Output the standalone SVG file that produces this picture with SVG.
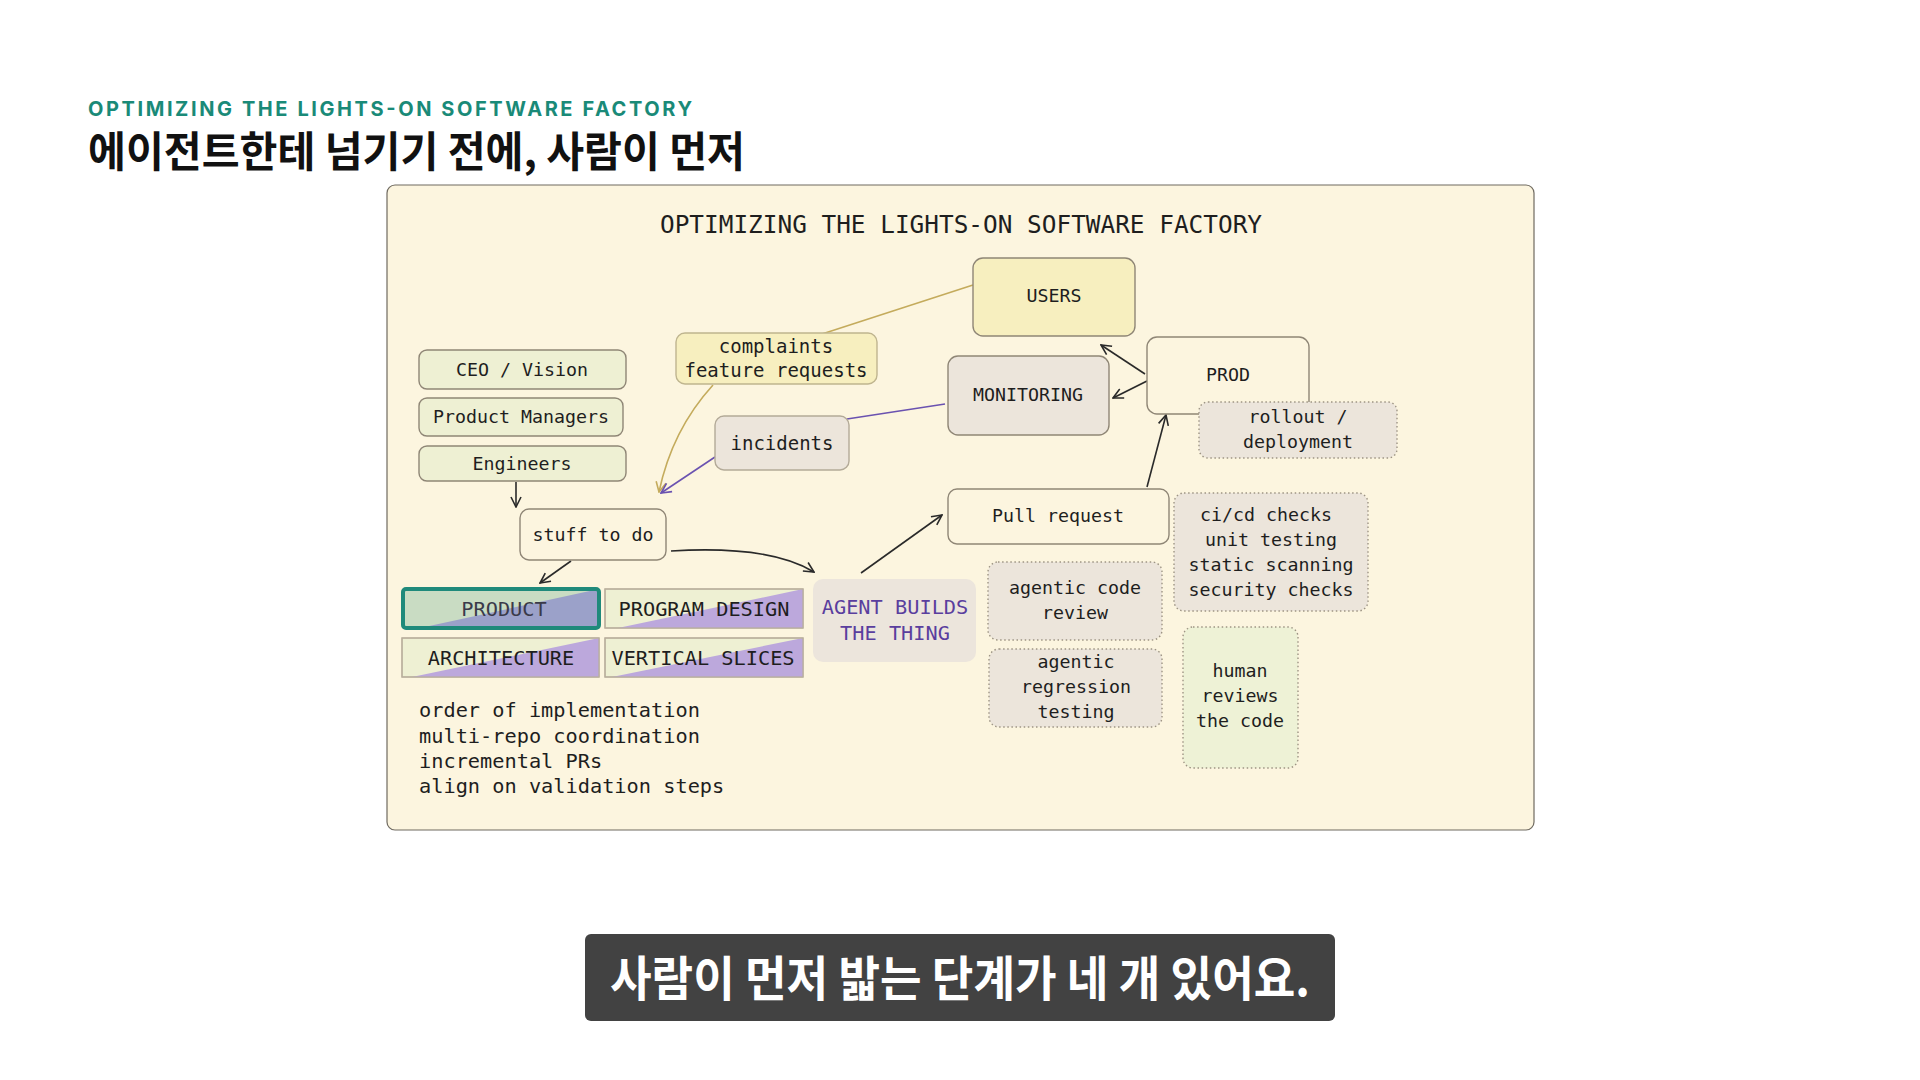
<svg xmlns="http://www.w3.org/2000/svg" width="1920" height="1080" viewBox="0 0 1920 1080">
<style>
.m{font-family:"DejaVu Sans Mono","Liberation Mono",monospace;fill:#1e1e1e;text-anchor:middle}
.s18{font-size:18.3px}
.s19{font-size:19px}
.s20{font-size:20.3px}
.box{stroke:#8f8676;stroke-width:1.4}
.dot{stroke:#9d9484;stroke-width:1.4;stroke-dasharray:1.5 2.6}
.cream{fill:#fcf5df}
.green{fill:#eef0d3}
.yellow{fill:#f7efbf}
.gray{fill:#ece5db}
.cat{stroke:#b8ae9c;stroke-width:1.2}
.tri{fill:#bca8dc}
.conn{fill:none;stroke:#2a2a2a;stroke-width:1.6}
</style>
<defs>
<marker id="ah" viewBox="0 0 12 12" refX="11" refY="6" markerWidth="12" markerHeight="12" markerUnits="userSpaceOnUse" orient="auto">
<path d="M1,1 L11,6 L1,11" fill="none" stroke="#2a2a2a" stroke-width="1.6"/>
</marker>
<marker id="ahy" viewBox="0 0 12 12" refX="11" refY="6" markerWidth="12" markerHeight="12" markerUnits="userSpaceOnUse" orient="auto">
<path d="M1,1 L11,6 L1,11" fill="none" stroke="#c4ab5c" stroke-width="1.6"/>
</marker>
<marker id="ahp" viewBox="0 0 12 12" refX="11" refY="6" markerWidth="12" markerHeight="12" markerUnits="userSpaceOnUse" orient="auto">
<path d="M1,1 L11,6 L1,11" fill="none" stroke="#6a52b0" stroke-width="1.6"/>
</marker>
</defs>
<rect width="1920" height="1080" fill="#ffffff"/>

<g id="header">
<text x="88" y="116" font-family="Inter,'Noto Sans',sans-serif" font-weight="700" font-size="20" fill="#1a8a78" textLength="604" lengthAdjust="spacing">OPTIMIZING THE LIGHTS-ON SOFTWARE FACTORY</text>
<text x="88" y="167" font-family="'Noto Sans CJK KR',sans-serif" font-weight="700" font-size="42" fill="#111111" textLength="657" lengthAdjust="spacingAndGlyphs">에이전트한테 넘기기 전에, 사람이 먼저</text>
</g>

<g id="frame">
<rect x="387" y="185" width="1147" height="645" rx="8" fill="#fcf5df" stroke="#6f6a60" stroke-width="1.2"/>
<text class="m" x="961" y="233" font-size="24.4">OPTIMIZING THE LIGHTS-ON SOFTWARE FACTORY</text>
</g>

<g id="connectors">
<path class="conn" d="M973,285 L822,334" style="stroke:#c4ab5c"/>
<path class="conn" d="M713,385 Q672,430 659,492" style="stroke:#c4ab5c" marker-end="url(#ahy)"/>
<path class="conn" d="M945,404 L847,419" style="stroke:#6a52b0"/>
<path class="conn" d="M715,457 L661,493" style="stroke:#6a52b0" marker-end="url(#ahp)"/>
<path class="conn" d="M1145,374 L1101,345" marker-end="url(#ah)"/>
<path class="conn" d="M1147,381 L1113,398" marker-end="url(#ah)"/>
<path class="conn" d="M1147,487 L1166,415" marker-end="url(#ah)"/>
<path class="conn" d="M861,573 L942,515" marker-end="url(#ah)"/>
<path class="conn" d="M671,551 Q770,545 814,572" marker-end="url(#ah)"/>
<path class="conn" d="M571,561 L540,583" marker-end="url(#ah)"/>
<path class="conn" d="M516,482 L516,507" marker-end="url(#ah)"/>
</g>

<g id="ceo">
<rect class="box green" x="419" y="350" width="207" height="39" rx="8"/>
<text class="m s18" x="522" y="376">CEO / Vision</text>
</g>
<g id="pm">
<rect class="box green" x="419" y="398" width="204" height="38" rx="8"/>
<text class="m s18" x="521" y="423">Product Managers</text>
</g>
<g id="engineers">
<rect class="box green" x="419" y="446" width="207" height="35" rx="8"/>
<text class="m s18" x="522" y="470">Engineers</text>
</g>
<g id="stuff">
<rect class="box cream" x="520" y="509" width="146" height="51" rx="9"/>
<text class="m s18" x="593" y="541">stuff to do</text>
</g>
<g id="complaints">
<rect class="box yellow" x="676" y="333" width="201" height="51" rx="9" style="stroke:#bfb58f"/>
<text class="m s19" x="776" y="353">complaints</text>
<text class="m s19" x="776" y="377">feature requests</text>
</g>
<g id="incidents">
<rect class="box gray" x="715" y="416" width="134" height="54" rx="9" style="stroke:#b3aa98"/>
<text class="m s19" x="782" y="450">incidents</text>
</g>
<g id="monitoring">
<rect class="box gray" x="948" y="356" width="161" height="79" rx="10"/>
<text class="m s18" x="1028" y="401">MONITORING</text>
</g>
<g id="users">
<rect class="box yellow" x="973" y="258" width="162" height="78" rx="10"/>
<text class="m s18" x="1054" y="302">USERS</text>
</g>
<g id="prod">
<rect class="box cream" x="1147" y="337" width="162" height="77" rx="10"/>
<text class="m s18" x="1228" y="381">PROD</text>
</g>
<g id="rollout">
<rect class="dot gray" x="1199" y="402" width="198" height="56" rx="9"/>
<text class="m s18" x="1298" y="423">rollout /</text>
<text class="m s18" x="1298" y="448">deployment</text>
</g>
<g id="pullrequest">
<rect class="box cream" x="948" y="489" width="221" height="55" rx="9"/>
<text class="m s18" x="1058" y="522">Pull request</text>
</g>
<g id="cicd">
<rect class="dot gray" x="1174" y="493" width="194" height="118" rx="10"/>
<text class="m s18" x="1266" y="521">ci/cd checks</text>
<text class="m s18" x="1271" y="546">unit testing</text>
<text class="m s18" x="1271" y="571">static scanning</text>
<text class="m s18" x="1271" y="596">security checks</text>
</g>
<g id="codereview">
<rect class="dot gray" x="988" y="562" width="174" height="78" rx="10"/>
<text class="m s18" x="1075" y="594">agentic code</text>
<text class="m s18" x="1075" y="619">review</text>
</g>
<g id="regression">
<rect class="dot gray" x="989" y="649" width="173" height="78" rx="10"/>
<text class="m s18" x="1076" y="668">agentic</text>
<text class="m s18" x="1076" y="693">regression</text>
<text class="m s18" x="1076" y="718">testing</text>
</g>
<g id="human">
<rect class="dot" x="1183" y="627" width="115" height="141" rx="10" fill="#eef2d6"/>
<text class="m s18" x="1240" y="677">human</text>
<text class="m s18" x="1240" y="702">reviews</text>
<text class="m s18" x="1240" y="727">the code</text>
</g>
<g id="agent">
<rect x="813" y="579" width="163" height="83" rx="10" fill="#ece5dc"/>
<text class="m s20" x="895" y="614" style="fill:#5a3e9e">AGENT BUILDS</text>
<text class="m s20" x="895" y="640" style="fill:#5a3e9e">THE THING</text>
</g>

<g id="product">
<rect x="403" y="589" width="196" height="39" fill="#c9dcc3"/>
<polygon points="420,628 599,589 599,628" fill="#9ba1c9"/>
<rect x="403" y="589" width="196" height="39" rx="3" fill="none" stroke="#1f8a7b" stroke-width="4"/>
<text class="m s20" x="504" y="616" style="fill:#3a3a4a">PRODUCT</text>
</g>
<g id="programdesign">
<rect class="cat green" x="605" y="589" width="198" height="39"/>
<polygon class="tri" points="618,628 803,589 803,628"/>
<rect class="cat" x="605" y="589" width="198" height="39" fill="none"/>
<text class="m s20" x="704" y="616">PROGRAM DESIGN</text>
</g>
<g id="architecture">
<rect class="cat green" x="402" y="638" width="197" height="39"/>
<polygon class="tri" points="412,677 599,638 599,677"/>
<rect class="cat" x="402" y="638" width="197" height="39" fill="none"/>
<text class="m s20" x="501" y="665">ARCHITECTURE</text>
</g>
<g id="verticalslices">
<rect class="cat green" x="605" y="638" width="198" height="39"/>
<polygon class="tri" points="612,677 803,638 803,677"/>
<rect class="cat" x="605" y="638" width="198" height="39" fill="none"/>
<text class="m s20" x="703" y="665">VERTICAL SLICES</text>
</g>

<g id="notes">
<text class="m s20" x="419" y="717" style="text-anchor:start">order of implementation</text>
<text class="m s20" x="419" y="743" style="text-anchor:start">multi-repo coordination</text>
<text class="m s20" x="419" y="768" style="text-anchor:start">incremental PRs</text>
<text class="m s20" x="419" y="793" style="text-anchor:start">align on validation steps</text>
</g>

<g id="subtitle">
<rect x="585" y="934" width="750" height="87" rx="6" fill="#424242"/>
<text x="610" y="996" font-family="'Noto Sans CJK KR',sans-serif" font-weight="700" font-size="48" fill="#ffffff" textLength="700" lengthAdjust="spacingAndGlyphs">사람이 먼저 밟는 단계가 네 개 있어요.</text>
</g>
</svg>
